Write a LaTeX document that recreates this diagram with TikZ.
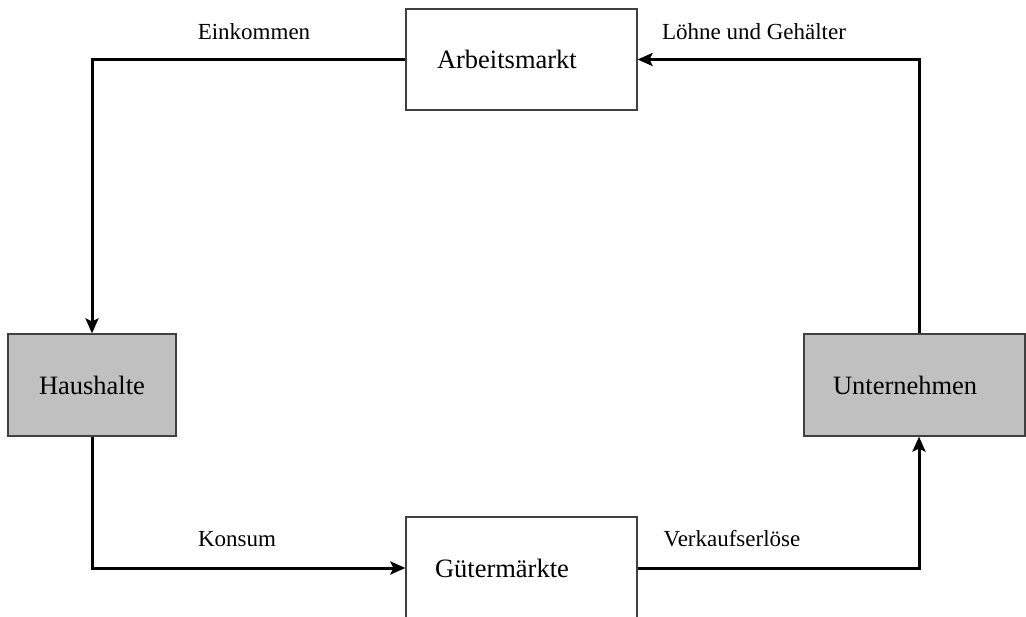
\documentclass[tikz,border=0pt]{standalone}
\usepackage{fontspec}
\setmainfont{Liberation Serif}
\usetikzlibrary{arrows.meta}
\begin{document}
\begin{tikzpicture}[x=1pt,y=-1pt,
  box/.style={draw=black!75, line width=1.2pt, inner ysep=0pt,
    font=\fontsize{26.5}{30}\selectfont, minimum height=102pt},
  market/.style={box, fill=white, align=left},
  agent/.style={box, fill={rgb,255:red,192;green,192;blue,192}},
  lbl/.style={font=\fontsize{23}{27}\selectfont, anchor=base, inner sep=0pt},
  flow/.style={line width=3pt, -{Stealth[length=15pt,width=13pt,inset=3pt]}}
]
\useasboundingbox (0,0) rectangle (1026,617);

\node[market, text width=169pt, inner xsep=31pt, minimum height=101pt] (A) at (521.5,59.5) {Arbeitsmarkt};
\node[market, text width=173pt, inner xsep=29pt] (G) at (521.5,568) {Gütermärkte};
\node[agent, align=center, text width=150pt, inner xsep=9pt] (H) at (92,385) {Haushalte};
\node[agent, align=left, text width=163pt, inner xsep=29pt] (U) at (914.5,385) {Unternehmen};

\node[lbl] (l1) at (254,40) {Einkommen};
\node[lbl] (l2) at (754,40) {Löhne und Gehälter};
\node[lbl] (l3) at (237,547) {Konsum};
\node[lbl] (l4) at (732,547) {Verkaufserlöse};

\draw[flow] (A.west) -| (H.north);
\draw[flow] (H.south) |- (G.west);
\draw[flow] (G.east) -| ([xshift=4.5pt]U.south);
\draw[flow] ([xshift=4.5pt]U.north) |- (A.east);
\end{tikzpicture}
\end{document}
